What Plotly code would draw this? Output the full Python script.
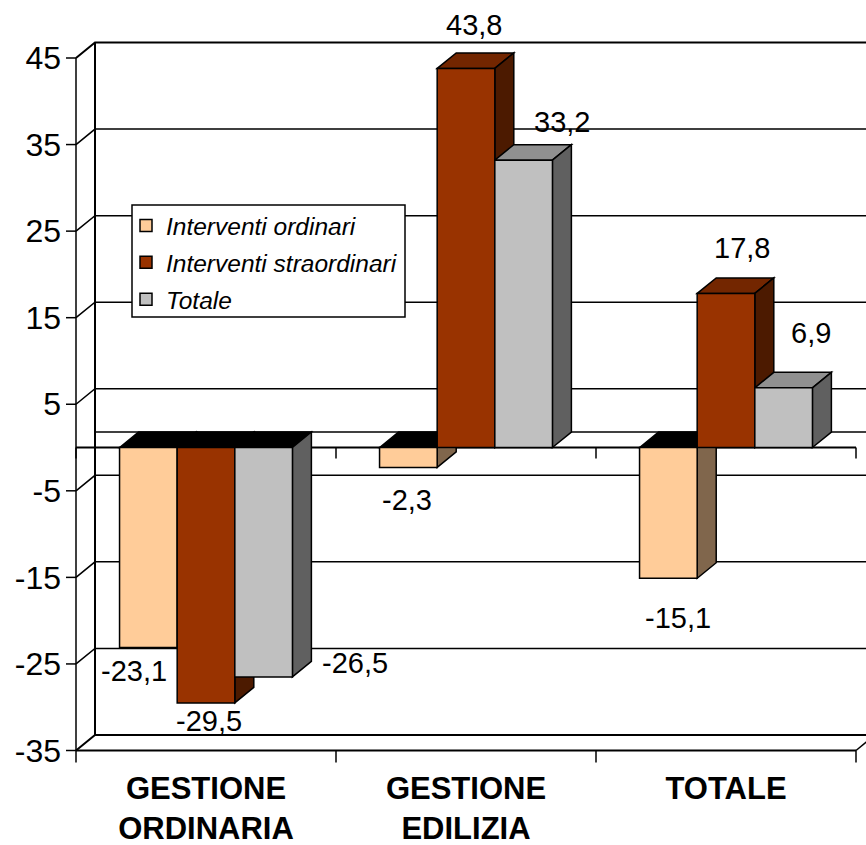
import plotly.graph_objects as go

categories = ["GESTIONE<br>ORDINARIA", "GESTIONE<br>EDILIZIA", "TOTALE"]
series_names = ["Interventi ordinari", "Interventi straordinari", "Totale"]
ordinari = [-23.1, -2.3, -15.1]
straordinari = [-29.5, 43.8, 17.8]
totale = [-26.5, 33.2, 6.9]
y_ticks = [45, 35, 25, 15, 5, -5, -15, -25, -35]

values = [ordinari, straordinari, totale]
colors = [(255, 204, 153), (153, 51, 0), (192, 192, 192)]

# label offsets from the bar end, in pixels (right, down), one row per series
label_dx = [[-14.4, -1.4, 9.6], [3, 8, 16], [91, 38.4, 27]]
label_dy = [[23.5, 32.6, 39.8], [18, -43, -45], [-14, -38, -55]]

PX_X = 260.0
PX_Y = 8.656
DX = 19 / PX_X
DY = 15.5 / PX_Y
BW = 0.2215
X_MIN, X_MAX = -10 / PX_X, 790 / PX_X
Y_TOP, Y_BOTTOM = 45 + 58 / PX_Y, -35 - 13.5 / PX_Y


def rgb(c, k=1.0):
    return "rgb({},{},{})".format(*[round(v * k) for v in c])


def poly(pts, fill=None, width=1.5, color="black", layer="below"):
    path = "M" + " L".join(f"{x:.5f},{y:.5f}" for x, y in pts)
    if fill:
        path += " Z"
    return dict(type="path", path=path, xref="x", yref="y", layer=layer,
                fillcolor=fill or "rgba(0,0,0,0)", line=dict(color=color, width=width))


shapes = []
# back wall and left wall
x_back_end = X_MAX + 0.1
for t in y_ticks:
    lw = 2 if t in (45, -35) else 1.5
    shapes.append(poly([(0, t), (DX, t + DY), (x_back_end, t + DY)], width=lw))
    shapes.append(poly([(-10 / PX_X, t), (0, t)]))
shapes.append(poly([(DX, DY), (x_back_end, DY)]))
shapes.append(poly([(DX, 45 + DY), (DX, -35 + DY)], width=2))
shapes.append(poly([(0, 45), (0, -35)]))
# category axes
shapes.append(poly([(0, 0), (3, 0)], width=2))
shapes.append(poly([(0, -35), (3, -35)], width=2))
shapes.append(poly([(3, -35), (x_back_end, -35 + DY * (x_back_end - 3) / DX)]))
for i in range(4):
    shapes.append(poly([(i, 0), (i, -11 / PX_Y)]))
    shapes.append(poly([(i, -35), (i, -35 - 12 / PX_Y)]))

# legend frame, 273 x 112 px
lx0, lx1 = 56 / PX_X, 329 / PX_X
ly0, ly1 = 242.5 / PX_Y, 130.5 / PX_Y
shapes.append(poly([(lx0, ly0), (lx1, ly0), (lx1, ly1), (lx0, ly1)], fill="white"))

# depth faces of the bars
for c in range(len(categories)):
    for s in range(len(values)):
        v = values[s][c]
        x0 = c + 0.5 + (s - 1.5) * BW
        x1 = x0 + BW
        top = max(v, 0)
        top_fill = "black" if v < 0 else rgb(colors[s], 0.75)
        shapes.append(poly([(x0, top), (x0 + DX, top + DY), (x1 + DX, top + DY), (x1, top)], fill=top_fill))
        shapes.append(poly([(x1, 0), (x1 + DX, DY), (x1 + DX, v + DY), (x1, v)], fill=rgb(colors[s], 0.5)))

fig = go.Figure()
centres = [c + 0.5 for c in range(len(categories))]
for s, name in enumerate(series_names):
    fig.add_trace(go.Bar(
        x=centres, y=values[s], name=name, legendgroup=name,
        marker=dict(color=rgb(colors[s]), line=dict(color="black", width=1.5)),
        hoverinfo="skip",
    ))

annotations = []
for c in range(len(categories)):
    for s in range(len(values)):
        v = values[s][c]
        annotations.append(dict(
            x=c + 0.5 + (s - 1) * BW, y=v, xref="x", yref="y",
            text=f"{v:.1f}".replace(".", ","), showarrow=False,
            xanchor="center", yanchor="middle",
            xshift=label_dx[s][c], yshift=-label_dy[s][c],
            font=dict(family="Liberation Sans", size=29, color="black"),
        ))

fig.update_layout(
    width=866, height=845, autosize=False,
    margin=dict(l=66, r=0, t=0, b=81, pad=0, autoexpand=False),
    paper_bgcolor="white", plot_bgcolor="white",
    barmode="group", bargap=0.335, bargroupgap=0,
    shapes=shapes, annotations=annotations,
    font=dict(family="Liberation Sans", color="black"),
    xaxis=dict(range=[X_MIN, X_MAX], tickvals=centres, ticktext=categories,
               showgrid=False, zeroline=False, showline=False, ticks="",
               automargin=False, ticklabelstandoff=3,
               tickfont=dict(family="Liberation Sans", size=31, color="black",
                             weight="bold"),
               tickangle=0),
    yaxis=dict(range=[Y_BOTTOM, Y_TOP], tickvals=y_ticks, ticktext=[str(t) for t in y_ticks],
               showgrid=False, zeroline=False, showline=False, ticks="",
               automargin=False, ticklabelstandoff=4,
               tickfont=dict(family="Liberation Sans", size=32, color="black")),
    legend=dict(x=(126 - 66) / 800, y=1 - 203 / 764, xanchor="left", yanchor="top",
                bgcolor="rgba(0,0,0,0)", borderwidth=0,
                tracegroupgap=2, itemclick=False, itemdoubleclick=False,
                font=dict(family="Liberation Sans", size=24.5, color="black", style="italic")),
)

fig.write_html("out.html", post_script="document.body.style.margin='0';",
               config=dict(displayModeBar=False))
